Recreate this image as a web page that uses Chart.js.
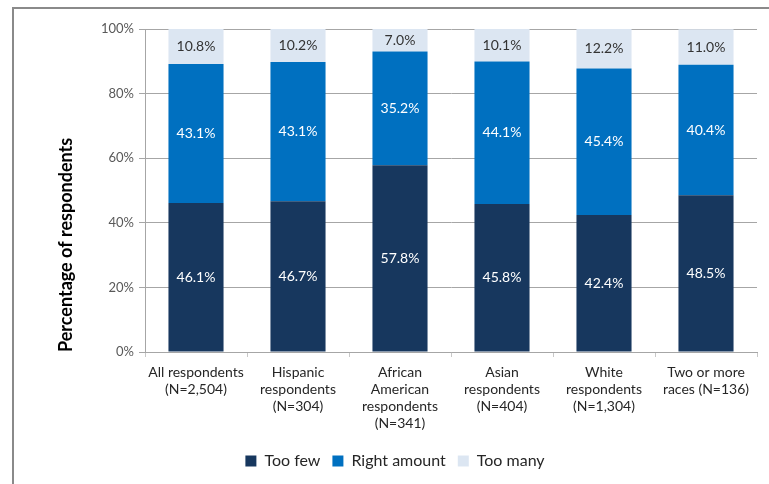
<!DOCTYPE html>
<html>
<head>
<meta charset="utf-8">
<script src="https://cdn.jsdelivr.net/npm/chart.js@4.4.1/dist/chart.umd.min.js"></script>
<style>
  html, body { margin: 0; padding: 0; background: #fff; }
  #wrap { position: relative; width: 769px; height: 484px; overflow: hidden; }
  #frame { position: absolute; left: 12px; top: 7px; right: -10px; bottom: -10px;
           border-left: 2px solid #8a8a8a; border-top: 2px solid #8a8a8a; }
  canvas { position: absolute; left: 0; top: 0; }
</style>
</head>
<body>
<div id="wrap">
  <div id="frame"></div>
  <canvas id="chart" width="769" height="484"></canvas>
</div>
<script>
// category labels (multi-line)
const groups = [
  ['All respondents', '(N=2,504)'],
  ['Hispanic', 'respondents', '(N=304)'],
  ['African', 'American', 'respondents', '(N=341)'],
  ['Asian', 'respondents', '(N=404)'],
  ['White', 'respondents', '(N=1,304)'],
  ['Two or more', 'races (N=136)']
];

const tooFew      = [46.1, 46.7, 57.8, 45.8, 42.4, 48.5];
const rightAmount = [43.1, 43.1, 35.2, 44.1, 45.4, 40.4];
const tooMany     = [10.8, 10.2, 7.0, 10.1, 12.2, 11.0];

const yTicks = [0, 20, 40, 60, 80, 100];

const FONT = 'Lato, "DejaVu Sans", sans-serif';

// writes the value in the middle of each segment
const segmentLabels = {
  id: 'segmentLabels',
  afterDatasetsDraw(chart) {
    const ctx = chart.ctx;
    ctx.save();
    ctx.font = '14px ' + FONT;
    ctx.textAlign = 'center';
    ctx.textBaseline = 'middle';
    chart.data.datasets.forEach((ds, i) => {
      const meta = chart.getDatasetMeta(i);
      ctx.fillStyle = ds.labelColor;
      meta.data.forEach((bar, j) => {
        const y = (bar.y + bar.base) / 2;
        ctx.fillText(ds.data[j].toFixed(1) + '%', bar.x, y);
      });
    });
    ctx.restore();
  }
};

new Chart(document.getElementById('chart'), {
  type: 'bar',
  data: {
    labels: groups,
    datasets: [
      { label: 'Too few', data: tooFew, backgroundColor: '#17375e', labelColor: '#ffffff' },
      { label: 'Right amount', data: rightAmount, backgroundColor: '#0070c0', labelColor: '#ffffff' },
      { label: 'Too many', data: tooMany, backgroundColor: '#dce6f2', labelColor: '#333333' }
    ]
  },
  options: {
    responsive: false,
    animation: false,
    layout: { padding: { left: 33, right: 12, top: 29, bottom: 5 } },
    datasets: { bar: { barPercentage: 0.54, categoryPercentage: 1.0 } },
    plugins: {
      legend: {
        position: 'bottom',
        labels: {
          boxWidth: 11, boxHeight: 11, padding: 12,
          color: '#262626', font: { family: FONT, size: 16 }
        }
      },
      tooltip: { enabled: false }
    },
    scales: {
      x: {
        stacked: true,
        afterFit(scale) { scale.height = 89; },
        grid: { drawOnChartArea: false, drawTicks: true, tickLength: 5, color: '#c8c8c8' },
        border: { color: '#a6a6a6' },
        ticks: {
          color: '#262626', padding: 7, maxRotation: 0, autoSkip: false,
          font: { family: FONT, size: 14, lineHeight: 1.22 }
        }
      },
      y: {
        stacked: true,
        min: 0, max: 100,
        afterFit(scale) { scale.width = 112; },
        afterBuildTicks(scale) { scale.ticks = yTicks.map(v => ({ value: v })); },
        grid: { color: '#a6a6a6', tickLength: 6 },
        border: { color: '#a6a6a6' },
        ticks: {
          color: '#595959', padding: 5,
          font: { family: FONT, size: 13 },
          callback: v => v + '%'
        },
        title: {
          display: true,
          text: 'Percentage of respondents',
          align: 'start',
          color: '#000000',
          padding: { top: 22, bottom: 0 },
          font: { family: FONT, size: 18, weight: 'bold' }
        }
      }
    }
  },
  plugins: [segmentLabels]
});
</script>
</body>
</html>
